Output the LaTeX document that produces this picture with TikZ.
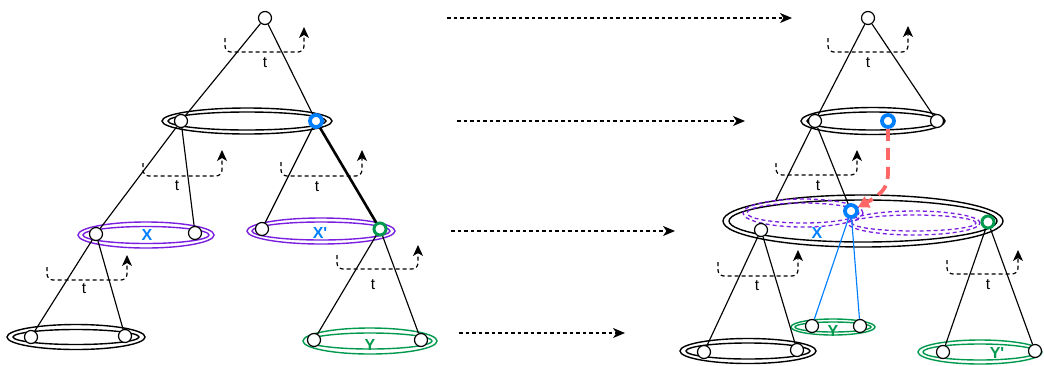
\documentclass[tikz,border=0pt]{standalone}
\usepackage{fontspec}
\setmainfont{Liberation Sans}[Ligatures=TeXOff]
\usetikzlibrary{arrows.meta}
\definecolor{xblue}{HTML}{007FFF}
\definecolor{ygreen}{HTML}{00994D}
\definecolor{xpurple}{HTML}{7A1FE0}
\definecolor{rred}{HTML}{FF6666}
\newcommand\dell[7]{%
  \draw[ell,#7,fill=white] (#1,#2) ellipse[x radius=#3pt,y radius=#4pt];
  \draw[ell,#7] (#1,#2) ellipse[x radius=#5pt,y radius=#6pt];}
\begin{document}
\begin{tikzpicture}[x=1pt,y=-1pt,
  nd/.style={circle,draw,fill=white,minimum size=13pt,inner sep=0pt,line width=1.2pt},
  bnd/.style={circle,draw=xblue,fill=white,minimum size=12pt,inner sep=0pt,line width=3.8pt},
  gnd/.style={circle,draw=ygreen,fill=white,minimum size=12pt,inner sep=0pt,line width=3pt},
  edge/.style={line width=1.15pt},
  thickedge/.style={line width=2.6pt},
  bedge/.style={line width=1.15pt,draw=xblue},
  ell/.style={line width=1.4pt},
  pdash/.style={line width=1.3pt,draw=xpurple,dash pattern=on 4pt off 3pt},
  loopa/.style={line width=1.2pt,dash pattern=on 4pt off 3pt,rounded corners=6pt,
    -{Stealth[length=11pt,width=10pt,inset=3pt]}},
  harr/.style={line width=1.2pt,dash pattern=on 3.5pt off 3pt,
    -{Stealth[length=12pt,width=10pt,inset=3.5pt]}},
  tlab/.style={font=\fontsize{15.5}{17}\selectfont,inner sep=0pt},
  lab/.style={font=\bfseries\fontsize{16}{18}\selectfont,inner sep=0pt},
  redarr/.style={line width=3.8pt,draw=rred,dash pattern=on 12pt off 7pt,
    -{Triangle[length=11pt,width=12pt,fill=rred]}}]
\useasboundingbox (0,0) rectangle (1044,365);

% ================= LEFT =================
\dell{247}{121}{85}{13}{79}{9}{draw=black}
\dell{146}{235}{68}{13}{63}{8.5}{draw=xpurple}
\dell{321}{231}{74}{13}{69}{9}{draw=xpurple}
\dell{76}{337}{69}{12.5}{63}{7.5}{draw=black}
\dell{370}{341}{67}{13}{62}{8}{draw=ygreen}

\node[nd]  (r1) at (265,18) {};
\node[nd]  (a1) at (181,121) {};
\node[bnd] (b1) at (316,121) {};
\node[nd]  (x1) at (96,234) {};
\node[nd]  (x2) at (195,233) {};
\node[nd]  (x3) at (262,229) {};
\node[gnd] (g1) at (380,229) {};
\node[nd]  (y1) at (31,337) {};
\node[nd]  (y2) at (125,336) {};
\node[nd]  (y3) at (314,340) {};
\node[nd]  (y4) at (421,340) {};

\draw[edge] (r1) -- (a1);
\draw[edge] (r1) -- (b1);
\draw[edge] (a1) -- (x1);
\draw[edge] (a1) -- (x2);
\draw[edge] (b1) -- (x3);
\draw[thickedge] (b1) -- (g1);
\draw[edge] (x1) -- (y1);
\draw[edge] (x1) -- (y2);
\draw[edge] (g1) -- (y3);
\draw[edge] (g1) -- (y4);

\node[lab,text=xblue]  (lx)  at (147,235) {X};
\node[lab,text=xblue]  (lxp) at (320,233) {X'};
\node[lab,text=ygreen] (ly)  at (370,345) {Y};

\draw[loopa] (225,38) -- (225,52) -- (304,52) -- (304,27);
\node[tlab] (t1) at (265,63) {t};
\draw[loopa] (143,163) -- (143,176) -- (222,176) -- (222,150);
\node[tlab] (t2) at (177,186) {t};
\draw[loopa] (281,162) -- (281,176) -- (362,176) -- (362,150);
\node[tlab] (t3) at (317,187) {t};
\draw[loopa] (47,267) -- (47,280) -- (127,280) -- (127,255);
\node[tlab] (t4) at (84,289) {t};
\draw[loopa] (337,255) -- (337,269) -- (418,269) -- (418,245);
\node[tlab] (t5) at (373,285) {t};

% ================= ARROWS =================
\coordinate (h1a) at (447,18);  \coordinate (h1b) at (792,18);
\coordinate (h2a) at (457,121); \coordinate (h2b) at (745,121);
\coordinate (h3a) at (451,231); \coordinate (h3b) at (675,231);
\coordinate (h4a) at (459,333); \coordinate (h4b) at (625,333);
\draw[harr] (h1a) -- (h1b);
\draw[harr] (h2a) -- (h2b);
\draw[harr] (h3a) -- (h3b);
\draw[harr] (h4a) -- (h4b);

% ================= RIGHT =================
\dell{873}{121}{72}{13.5}{66}{9}{draw=black}
\dell{833}{327}{42}{8}{38}{5}{draw=ygreen}
\dell{748}{351}{68}{12.5}{62}{8}{draw=black}
\dell{980}{352}{62}{12}{57}{8}{draw=ygreen}

\node[nd]  (r2) at (868,18) {};
\node[nd]  (a2) at (815,121) {};
\node[bnd] (b2) at (888,121) {};
\node[nd]  (c2) at (937,121) {};

\draw[edge] (r2) -- (a2);
\draw[edge] (r2) -- (c2);
\coordinate (n1c) at (761,230);
\draw[edge] (a2) -- (n1c);

% big ellipse
\dell{863}{221}{140}{26}{134}{21}{draw=black}
\draw[pdash] (803,213) ellipse[x radius=60pt,y radius=14pt];
\draw[pdash] (803,213) ellipse[x radius=56pt,y radius=10pt];
\draw[pdash] (914,223) ellipse[x radius=66pt,y radius=12pt];
\draw[pdash] (914,223) ellipse[x radius=62pt,y radius=8pt];

\node[nd]  (n1) at (n1c) {};
\node[bnd] (bx) at (851,211) {};
\node[gnd] (gx) at (988,222) {};
\node[nd]  (q1) at (812,326) {};
\node[nd]  (q2) at (860,326) {};
\node[nd]  (z1) at (704,352) {};
\node[nd]  (z2) at (797,350) {};
\node[nd]  (w1) at (943,352) {};
\node[nd]  (w2) at (1035,351) {};

\draw[edge] (a2) -- (bx);
\draw[edge] (n1) -- (z1);
\draw[edge] (n1) -- (z2);
\draw[edge] (gx) -- (w1);
\draw[edge] (gx) -- (w2);
\draw[bedge] (bx) -- (q1);
\draw[bedge] (bx) -- (q2);

\node[lab,text=xblue]  (rx)  at (817,233) {X};
\node[lab,text=ygreen] (ry)  at (833,331) {Y};
\node[lab,text=ygreen] (ryp) at (997,353) {Y'};

\draw[loopa] (828,38) -- (828,52) -- (908,52) -- (908,26);
\node[tlab] (t6) at (868,63) {t};
\draw[loopa] (776,163) -- (776,175) -- (857,175) -- (857,150);
\node[tlab] (t7) at (818,186) {t};
\draw[loopa] (718,262) -- (718,276) -- (798,276) -- (798,250);
\node[tlab] (t8) at (757,286) {t};
\draw[loopa] (947,260) -- (947,274) -- (1018,274) -- (1018,250);
\node[tlab] (t9) at (988,285) {t};

\draw[redarr] (b2) -- (888,172) .. controls (888,186) and (884,193) .. (bx);
\end{tikzpicture}
\end{document}
